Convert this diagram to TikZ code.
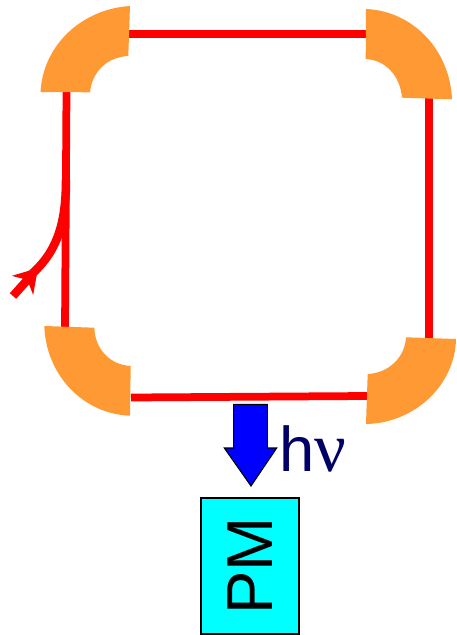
\documentclass[tikz,border=0pt]{standalone}
\usepackage{fontspec}
\setmainfont{Liberation Sans}
\newfontfamily\nufont{Liberation Serif}
\usepackage{xcolor}
\definecolor{fanorange}{RGB}{255,153,51}
\definecolor{photonblue}{RGB}{0,0,255}
\definecolor{pmcyan}{RGB}{0,255,255}
\definecolor{labelnavy}{RGB}{0,0,102}
\usepackage{tikz}
\usetikzlibrary{arrows.meta}

\begin{document}
\begin{tikzpicture}[
  x=0.02cm, y=-0.02cm,
  fan/.style={fill=fanorange, draw=none},
  beam/.style={draw=red, line width=0.155cm},
  beamin/.style={beam, line width=0.17cm},
  photon/.style={fill=photonblue, draw=black, line width=0.6pt, line join=miter},
  pmbox/.style={
    rectangle, draw=black, fill=pmcyan, line width=1pt,
    minimum width=1.96cm, minimum height=2.72cm, inner sep=0pt
  },
  pmtext/.style={font=\fontsize{37}{40}\selectfont, rotate=90},
  hnu/.style={font=\fontsize{36}{40}\selectfont, text=labelnavy, inner sep=0pt, anchor=base west},
]
\useasboundingbox (0,0) rectangle (456,635);

%% Ring junctions
\coordinate (tlr) at (129, 34);
\coordinate (trl) at (367, 34);
\coordinate (trb) at (429, 98);
\coordinate (brt) at (429, 338);
\coordinate (brl) at (367, 396);
\coordinate (blr) at (131, 397.5);
\coordinate (blt) at (65, 327);
\coordinate (tlb) at (66.5, 91);

%% Beam line
\draw[beam] (tlr) -- (trl);
\draw[beam] (trb) -- (brt);
\draw[beam] (brl) -- (blr);
\draw[beam] (blt) -- (tlb);

%% Injection
\coordinate (inj) at (13, 296);
\coordinate (tip) at (38, 268);
\coordinate (join) at (66, 180);
\draw[beamin] (29, 277) -- (tip) .. controls (56, 249) and (66, 225) .. (join);
\draw[beamin, -{Stealth[length=0.46cm, width=0.56cm, inset=0.14cm]}] (inj) -- (tip);

%% Bending fans
\fill[fan] (40.5, 92) .. controls (43, 45) and (82, 9) .. (130, 6)
  -- (128.3, 56) .. controls (107, 57) and (92, 72) .. (90, 92.3) -- cycle;
\fill[fan] (366, 9) .. controls (413, 11) and (450, 50) .. (452, 99.3)
  -- (402, 97.7) .. controls (400, 75) and (385, 60) .. (365.7, 59) -- cycle;
\fill[fan] (456, 339) .. controls (455, 385) and (415, 423) .. (366, 424)
  -- (367.7, 374) .. controls (389, 373) and (405, 357) .. (406, 337.3) -- cycle;
\fill[fan] (44.3, 326) .. controls (46, 375) and (83, 414) .. (130, 415.7)
  -- (130.7, 366) .. controls (110, 365) and (95, 349) .. (94.3, 327.7) -- cycle;

%% Photon arrow
\draw[photon] (233.7, 404.5) -- (267.3, 404.5) -- (267.3, 448) -- (276.7, 448)
  -- (251, 486) -- (224.3, 448) -- (233.7, 448) -- cycle;

%% Detector and label
\node[pmbox] (pm) at (250, 566) {};
\node[pmtext] (pmlabel) at (pm.center) {PM};
\node[hnu] (hnulabel) at (279, 471.7) {h{\nufont\fontsize{40}{40}\selectfont ν}};

\end{tikzpicture}
\end{document}
